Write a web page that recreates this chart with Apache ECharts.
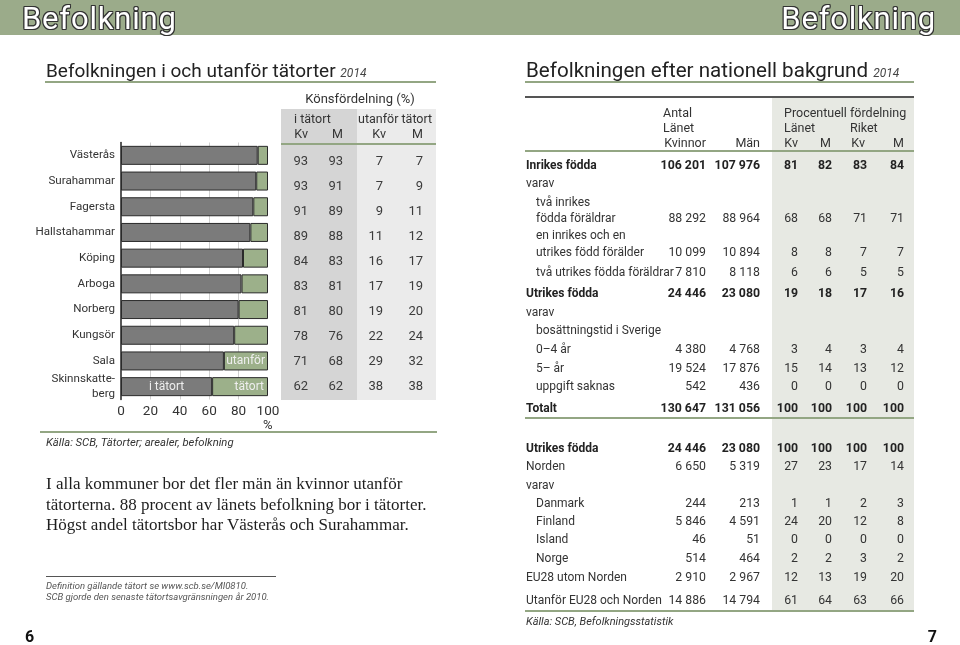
<!DOCTYPE html>
<html>
<head>
<meta charset="utf-8">
<script src="https://cdn.jsdelivr.net/npm/echarts@6.0.0/dist/echarts.min.js"></script>
<style>
  body { margin: 0; width: 960px; height: 645px; overflow: hidden; background: #fff; }
  #chart { position: absolute; left: 0; top: 0; width: 960px; height: 645px; }
  #page { position: absolute; left: 0; top: 0; width: 960px; height: 645px; font-family: Roboto, 'Open Sans', sans-serif; color: #333; }
  .t { position: absolute; white-space: nowrap; line-height: 1; transform: translateY(-50%); }
  .box { position: absolute; }
  .band { position: absolute; top: 0; height: 35px; background: #9bab8a; }
  .head { font-size: 31px; color: #fff; letter-spacing: 0.8px;
    text-shadow: -1px -1px 0 #333, 1px -1px 0 #333, -1px 1px 0 #333, 1px 1px 0 #333, 0 1px 0 #333, 0 -1px 0 #333, 1px 0 0 #333, -1px 0 0 #333; }
  .yr { font-size: 12px; font-style: italic; color: #444; }
</style>
</head>
<body>
<div class="band" style="left:0;width:960px"></div>
<div id="chart"></div>
<div id="page"></div>
<script>
// Befolkningen i och utanför tätorter 2014
const kommuner = ["Västerås", "Surahammar", "Fagersta", "Hallstahammar", "Köping", "Arboga", "Norberg", "Kungsör", "Sala", "Skinnskatte-\nberg"];
const iTatort = [93, 92, 90, 88, 83, 82, 80, 77, 70, 62];
const utanforTatort = [7, 8, 10, 12, 17, 18, 20, 23, 30, 38];
const xTicks = [0, 20, 40, 60, 80, 100];

// Könsfördelning (%)
const konsKvI = [93, 93, 91, 89, 84, 83, 81, 78, 71, 62];
const konsMI = [93, 91, 89, 88, 83, 81, 80, 76, 68, 62];
const konsKvU = [7, 7, 9, 11, 16, 17, 19, 22, 29, 38];
const konsMU = [7, 9, 11, 12, 17, 19, 20, 24, 32, 38];

// Befolkningen efter nationell bakgrund 2014 – tabell 1
const t1Labels = ["Inrikes födda", "varav", "två inrikes", "födda föräldrar", "en inrikes och en", "utrikes född förälder", "två utrikes födda föräldrar", "Utrikes födda", "varav", "bosättningstid i Sverige", "0–4 år", "5– år", "uppgift saknas", "Totalt"];
const t1Indent = [0, 0, 1, 1, 1, 1, 1, 0, 0, 1, 1, 1, 1, 0];
const t1Bold = [1, 0, 0, 0, 0, 0, 0, 1, 0, 0, 0, 0, 0, 1];
const t1Kvinnor = [106201, null, null, 88292, null, 10099, 7810, 24446, null, null, 4380, 19524, 542, 130647];
const t1Man = [107976, null, null, 88964, null, 10894, 8118, 23080, null, null, 4768, 17876, 436, 131056];
const t1LanKv = [81, null, null, 68, null, 8, 6, 19, null, null, 3, 15, 0, 100];
const t1LanM = [82, null, null, 68, null, 8, 6, 18, null, null, 4, 14, 0, 100];
const t1RikKv = [83, null, null, 71, null, 7, 5, 17, null, null, 3, 13, 0, 100];
const t1RikM = [84, null, null, 71, null, 7, 5, 16, null, null, 4, 12, 0, 100];

// tabell 2
const t2Labels = ["Utrikes födda", "Norden", "varav", "Danmark", "Finland", "Island", "Norge", "EU28 utom Norden", "Utanför EU28 och Norden"];
const t2Indent = [0, 0, 0, 1, 1, 1, 1, 0, 0];
const t2Bold = [1, 0, 0, 0, 0, 0, 0, 0, 0];
const t2Kvinnor = [24446, 6650, null, 244, 5846, 46, 514, 2910, 14886];
const t2Man = [23080, 5319, null, 213, 4591, 51, 464, 2967, 14794];
const t2LanKv = [100, 27, null, 1, 24, 0, 2, 12, 61];
const t2LanM = [100, 23, null, 1, 20, 0, 2, 13, 64];
const t2RikKv = [100, 17, null, 2, 12, 0, 3, 19, 63];
const t2RikM = [100, 14, null, 3, 8, 0, 2, 20, 66];

// layout (y för raderna)
const t1RowY = [165, 183, 202, 218, 235, 252, 272, 293, 312, 330, 349, 368, 386, 408];
const t2RowY = [448, 466, 485, 503, 521, 539, 558, 577, 600];

const GREEN = "#93a683";
const page = document.getElementById("page");

function put(x, y, s, css, right) {
  const d = document.createElement("div");
  d.className = "t";
  d.textContent = s;
  if (right) d.style.right = (960 - x) + "px"; else d.style.left = x + "px";
  d.style.top = y + "px";
  if (css) d.style.cssText += css;
  page.appendChild(d);
  return d;
}
function box(x, y, w, h, bg) {
  const d = document.createElement("div");
  d.className = "box";
  d.style.cssText = `left:${x}px;top:${y}px;width:${w}px;height:${h}px;background:${bg}`;
  page.appendChild(d);
}
function fmt(n) {
  return n.toString().replace(/\B(?=(\d{3})+(?!\d))/g, "\u00a0");
}
function title(x, y, s, size) {
  const d = put(x, y, s + " ", "font-size:" + size + "px;color:#222");
  const yr = document.createElement("span");
  yr.className = "yr";
  yr.textContent = "2014";
  d.appendChild(yr);
}

// sidhuvud
put(22, 18, "Befolkning", "", false).className += " head";
put(936, 18, "Befolkning", "", true).className += " head";

// ---- vänster sida ----
title(46, 70, "Befolkningen i och utanför tätorter", 19);
box(45, 81, 391, 2, GREEN);

put(360, 98, "Könsfördelning (%)", "font-size:13px;transform:translate(-50%,-50%)");
box(281, 109, 76, 291, "#d5d5d5");
box(357, 109, 79, 291, "#ebebeb");
put(294, 119, "i tätort", "font-size:12.5px");
put(358, 119, "utanför tätort", "font-size:12.5px");
put(308, 134, "Kv", "font-size:12.5px", true);
put(343, 134, "M", "font-size:12.5px", true);
put(386, 134, "Kv", "font-size:12.5px", true);
put(423, 134, "M", "font-size:12.5px", true);
box(281, 143, 155, 2, GREEN);
const konsCols = [[konsKvI, 308], [konsMI, 343], [konsKvU, 383], [konsMU, 423]];
konsCols.forEach(([arr, xr]) => arr.forEach((v, i) => put(xr, 160 + 25 * i, String(v), "font-size:13px;color:#3c3c3c", true)));

put(263, 424, "%", "font-size:13px;color:#333");
box(40, 431, 397, 2, GREEN);
put(46, 443, "Källa: SCB, Tätorter; arealer, befolkning", "font-size:11.3px;font-style:italic;color:#333");

const body = ["I alla kommuner bor det fler män än kvinnor utanför", "tätorterna. 88 procent av länets befolkning bor i tätorter.", "Högst andel tätortsbor har Västerås och Surahammar."];
body.forEach((s, i) => put(46, 483 + 20.7 * i, s, "font-family:'Liberation Serif',serif;font-size:17px;color:#1e1e1e"));

box(46, 576, 230, 1, "#555");
put(46, 586, "Definition gällande tätort se www.scb.se/MI0810.", "font-size:9.5px;font-style:italic;color:#555");
put(46, 597, "SCB gjorde den senaste tätortsavgränsningen år 2010.", "font-size:9.5px;font-style:italic;color:#555");

put(25, 637, "6", "font-size:16px;font-weight:bold;color:#111");
put(937, 637, "7", "font-size:16px;font-weight:bold;color:#111", true);

// ---- höger sida ----
title(526, 70, "Befolkningen efter nationell bakgrund", 20.6);
box(525, 81, 389, 2, GREEN);
box(772, 97, 142, 514, "#e7e9e3");
box(525, 96, 389, 1.5, "#555");

const hs = "font-size:12.5px;color:#333";
put(663, 113, "Antal", hs);
put(663, 128, "Länet", hs);
put(706, 143, "Kvinnor", hs, true);
put(760, 143, "Män", hs, true);
put(784, 113, "Procentuell fördelning", hs);
put(784, 128, "Länet", hs);
put(850, 128, "Riket", hs);
put(798, 143, "Kv", hs, true);
put(831, 143, "M", hs, true);
put(865, 143, "Kv", hs, true);
put(904, 143, "M", hs, true);
box(525, 150, 389, 2, GREEN);

const numRight = [706, 760, 798, 832, 867, 904];
function table(labels, indent, bold, cols, rowY) {
  labels.forEach((s, i) => {
    const w = bold[i] ? "font-weight:bold;color:#222;" : "color:#333;";
    put(indent[i] ? 536 : 526, rowY[i], s, "font-size:12px;" + w);
    cols.forEach((arr, c) => {
      if (arr[i] !== null) put(numRight[c], rowY[i], fmt(arr[i]), "font-size:12.3px;" + w, true);
    });
  });
}
table(t1Labels, t1Indent, t1Bold, [t1Kvinnor, t1Man, t1LanKv, t1LanM, t1RikKv, t1RikM], t1RowY);
box(525, 417, 389, 2, GREEN);
table(t2Labels, t2Indent, t2Bold, [t2Kvinnor, t2Man, t2LanKv, t2LanM, t2RikKv, t2RikM], t2RowY);
box(525, 610, 389, 2, GREEN);
put(526, 621, "Källa: SCB, Befolkningsstatistik", "font-size:11px;font-style:italic;color:#333");

// ---- stapeldiagram ----
const chart = echarts.init(document.getElementById("chart"));
const lbl = { color: "#eeeeee", fontSize: 12, fontFamily: "Roboto" };
const last = kommuner.length - 1;
const salaIdx = kommuner.indexOf("Sala");
chart.setOption({
  animation: false,
  textStyle: { fontFamily: "Roboto" },
  grid: { left: 121, top: 142.5, width: 147, height: 257 },
  xAxis: {
    type: "value", min: 0, max: 100, interval: 20,
    axisLine: { show: false }, axisTick: { show: false },
    axisLabel: { color: "#333", fontSize: 13.5, margin: 5,
      customValues: xTicks },
    splitLine: { show: true, lineStyle: { color: ["transparent", "#d0d0d0", "#d0d0d0", "#d0d0d0", "#d0d0d0", "transparent"], width: 1 } }
  },
  yAxis: {
    type: "category", inverse: true, data: kommuner,
    axisLine: { show: true, lineStyle: { color: "#222", width: 1.5 } },
    axisTick: { show: false },
    axisLabel: { color: "#333", fontSize: 11.6, margin: 6, lineHeight: 15 }
  },
  series: [
    {
      name: "i tätort", type: "bar", stack: "a", barWidth: 19,
      itemStyle: { color: "#7b7b7b", borderColor: "#2a2a2a", borderWidth: 1 },
      data: iTatort.map((v, i) => i === last
        ? { value: v, label: Object.assign({ show: true, position: "inside", formatter: "i tätort" }, lbl) }
        : v)
    },
    {
      name: "utanför tätort", type: "bar", stack: "a", barWidth: 19,
      itemStyle: { color: "#9cb08a", borderColor: "#2a2a2a", borderWidth: 1 },
      data: utanforTatort.map((v, i) => i === last
        ? { value: v, label: Object.assign({ show: true, position: "insideRight", distance: 4, formatter: "tätort" }, lbl) }
        : i === salaIdx
        ? { value: v, label: Object.assign({ show: true, position: "insideRight", distance: 3, formatter: "utanför" }, lbl) }
        : v)
    }
  ]
});
</script>
</body>
</html>
